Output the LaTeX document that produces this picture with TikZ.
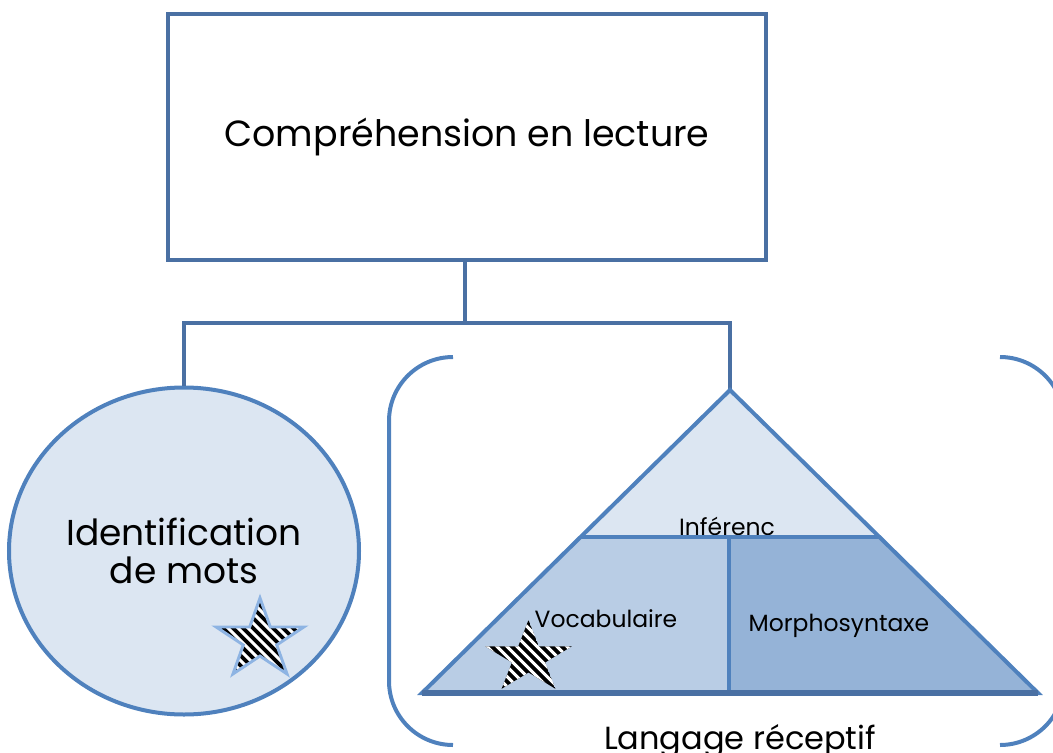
\documentclass[tikz,border=0pt]{standalone}
\usepackage{fontspec}
\setmainfont{Poppins}
\usetikzlibrary{shapes.geometric}
\definecolor{darkline}{RGB}{74,112,163}
\definecolor{medline}{RGB}{79,129,189}
\definecolor{lightfill}{RGB}{220,230,242}
\definecolor{midfill}{RGB}{185,205,229}
\definecolor{deepfill}{RGB}{149,179,215}
\definecolor{starline}{RGB}{142,180,227}
\newcommand\mystar[4]{({#1+#3*cos(270)},{#2+#4*sin(270)}) -- ({#1+0.382*#3*cos(306)},{#2+0.382*#4*sin(306)}) -- ({#1+#3*cos(342)},{#2+#4*sin(342)}) -- ({#1+0.382*#3*cos(18)},{#2+0.382*#4*sin(18)}) -- ({#1+#3*cos(54)},{#2+#4*sin(54)}) -- ({#1+0.382*#3*cos(90)},{#2+0.382*#4*sin(90)}) -- ({#1+#3*cos(126)},{#2+#4*sin(126)}) -- ({#1+0.382*#3*cos(162)},{#2+0.382*#4*sin(162)}) -- ({#1+#3*cos(198)},{#2+#4*sin(198)}) -- ({#1+0.382*#3*cos(234)},{#2+0.382*#4*sin(234)}) -- cycle}
\newcommand\stripes[2]{\foreach \k in {-150,-140,...,150} {\draw[white, line width=2.2pt] ({#1+\k-80},{#2-80}) -- ({#1+\k+80},{#2+80});}}
\tikzset{
  conn/.style={draw=darkline, line width=3pt},
  shapeline/.style={draw=medline, line width=3pt},
  bigtext/.style={font=\fontsize{27.3pt}{30pt}\selectfont},
  smalltext/.style={font=\fontsize{17.6pt}{20pt}\selectfont},
}
\begin{document}
\begin{tikzpicture}[x=0.75pt, y=-0.75pt, line join=miter]
\useasboundingbox (0,0) rectangle (1053,753);
\clip (0,0) rectangle (1053,753);
% bracket
\draw[medline, line width=3pt] (453,357) arc[start angle=270, end angle=180, radius=64] -- (389,681) arc[start angle=180, end angle=90, radius=64];
\draw[medline, line width=3pt] (1000,357) arc[start angle=270, end angle=360, radius=64] -- (1064,681) arc[start angle=0, end angle=90, radius=64];
% top box
\node[conn, fill=white, minimum width=448.5pt, minimum height=184.5pt, bigtext, inner sep=0pt] (top) at (467,137) {Compréhension en lecture};
% circle
\node[ellipse, shapeline, fill=lightfill, minimum width=262.5pt, minimum height=245.25pt, inner sep=0pt, align=center, font=\fontsize{27pt}{28.5pt}\selectfont] (ident) at (184,551) {Identification\\de mots};
% connectors
\coordinate (hub) at (465,323);
\coordinate (apex) at (730,390);
\draw[conn] (top.south -| hub) -- (hub);
\draw[conn] (ident.north) |- (hub) -| (apex);
% star 1
\begin{scope}
\clip \mystar{260}{640}{46}{42};
\fill[black] \mystar{260}{640}{46}{42};
\stripes{260}{640}
\end{scope}
\draw[starline, line width=2.2pt] \mystar{260}{640}{46}{42};
% triangle
\coordinate (bl) at (422,693);
\coordinate (br) at (1038,693);
\coordinate (ml) at (580.6,537);
\coordinate (mr) at (879.4,537);
\coordinate (mc) at (729,537);
\coordinate (bc) at (729,693);
\fill[lightfill] (apex) -- (mr) -- (ml) -- cycle;
\fill[midfill] (ml) -- (mc) -- (bc) -- (bl) -- cycle;
\fill[deepfill] (mc) -- (mr) -- (br) -- (bc) -- cycle;
\begin{scope}
\clip (apex) -- (mr) -- (ml) -- cycle;
\node[smalltext, anchor=base, inner sep=0pt] (inf) at (727,535) {Inférenc};
\end{scope}
\draw[shapeline] (ml) -- (mr);
\draw[shapeline] (mc) -- (bc);
\draw[shapeline] (apex) -- (br) -- (bl) -- cycle;
\draw[darkline, line width=4pt] (bl) -- (br);
\node[smalltext, anchor=base, inner sep=0pt] (voc) at (606,627) {Vocabulaire};
\node[smalltext, anchor=base, inner sep=0pt] (morph) at (839,631) {Morphosyntaxe};
% star 2
\begin{scope}
\clip \mystar{528.5}{658}{45.7}{38};
\fill[black] \mystar{528.5}{658}{45.7}{38};
\stripes{528.5}{658}
\end{scope}
% label
\node[font=\fontsize{24pt}{30pt}\selectfont, anchor=base, inner sep=0pt] (lang) at (740,749) {Langage réceptif};
\end{tikzpicture}
\end{document}
